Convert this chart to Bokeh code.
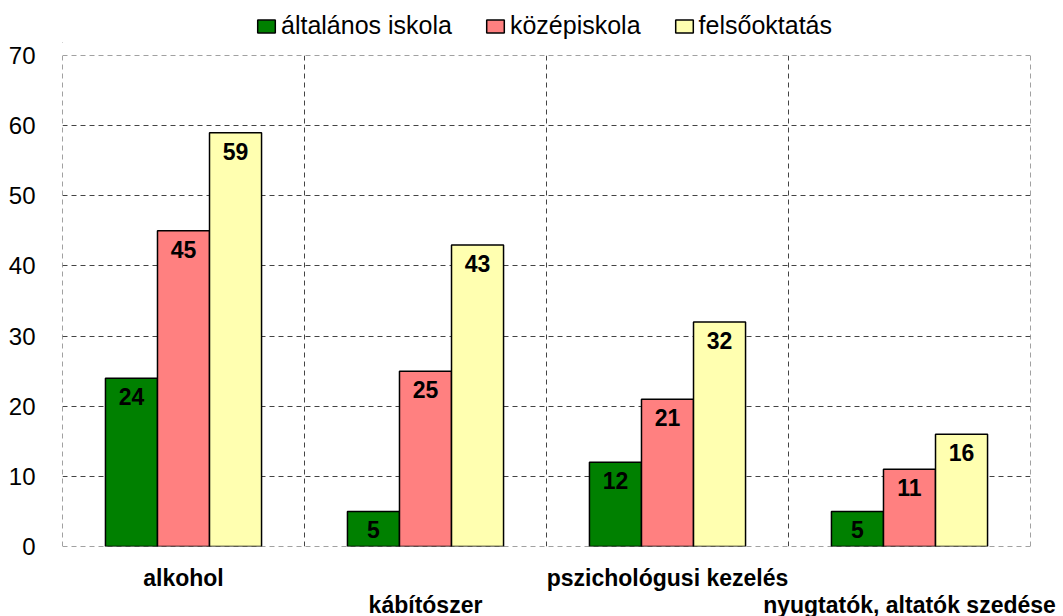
from bokeh.plotting import figure
from bokeh.layouts import column
from bokeh.models import (ColumnDataSource, FixedTicker, SingleIntervalTicker, LinearAxis,
                          Legend, LegendItem, Range1d, Span)
from bokeh.transform import dodge
from bokeh.core.properties import value
from bokeh.embed import file_html
from bokeh.resources import INLINE

categories = ["alkohol", "kábítószer", "pszichológusi kezelés", "nyugtatók, altatók szedése"]
series_names = ["általános iskola", "középiskola", "felsőoktatás"]
altalanos = [24, 5, 12, 5]
kozep = [45, 25, 21, 11]
felso = [59, 43, 32, 16]
colors = ["#008000", "#FF8080", "#FFFFB0"]
y_max = 70

FONT = "Liberation Sans"
GRID = "#444444"
DASH = "5 4"
positions = [i + 0.5 for i in range(len(categories))]

FW, FH = 968, 491
TOTAL_W = 62 + FW + 30

# ---- legend strip (proxy glyphs kept outside the visible range) ----
pl = figure(width=TOTAL_W, height=43, output_backend="svg", toolbar_location=None,
            x_range=Range1d(0, 1), y_range=Range1d(0, 1),
            min_border_left=0, min_border_right=0, min_border_top=0, min_border_bottom=0)
pl.axis.visible = False
pl.grid.visible = False
pl.outline_line_color = None
leg_items = []
for name, col in zip(series_names, colors):
    proxy = ColumnDataSource(dict(x=[-10], top=[0]))
    r = pl.vbar(x="x", top="top", width=0.1, source=proxy,
                fill_color=col, line_color="black", line_width=1.5)
    leg_items.append(LegendItem(label=name, renderers=[r]))
legend = Legend(items=leg_items, orientation="horizontal", location=(193, 3),
                label_text_font=FONT, label_text_font_size="25px", label_text_color="black",
                glyph_width=22, glyph_height=16, label_standoff=4, spacing=32,
                border_line_color=None, background_fill_alpha=0,
                padding=0, margin=0)
pl.add_layout(legend)

# ---- main chart ----
p = figure(frame_width=FW, frame_height=FH, output_backend="svg", toolbar_location=None,
           x_range=Range1d(0, len(categories)), y_range=Range1d(0, y_max),
           min_border_left=62, min_border_right=30, min_border_top=12, min_border_bottom=0,
           x_axis_location=None)
p.outline_line_color = None
p.background_fill_color = "white"
p.border_fill_color = "white"

# grids
p.ygrid.ticker = SingleIntervalTicker(interval=10)
p.ygrid.grid_line_color = GRID
p.ygrid.grid_line_dash = DASH
p.ygrid.grid_line_width = 1
p.xgrid.ticker = FixedTicker(ticks=list(range(len(categories) + 1)))
p.xgrid.grid_line_color = GRID
p.xgrid.grid_line_dash = DASH
p.xgrid.grid_line_width = 1
for loc, dim in [(0, "width"), (y_max, "width"), (0, "height"), (len(categories), "height")]:
    p.add_layout(Span(location=loc, dimension=dim, line_color=GRID, line_dash=DASH,
                      line_width=1, level="underlay"))

bw = 0.215
offsets = [-bw, 0.0, bw]
for vals, name, col, off in zip([altalanos, kozep, felso], series_names, colors, offsets):
    src = ColumnDataSource(dict(x=positions, top=vals, lbl=[str(v) for v in vals]))
    p.vbar(x=dodge("x", off, range=p.x_range), top="top", width=bw, source=src,
           fill_color=col, line_color="black", line_width=1.5)
    p.text(x=dodge("x", off, range=p.x_range), y="top", text="lbl", source=src,
           text_align="center", text_baseline="top", y_offset=10,
           text_font=value(FONT), text_font_style="bold", text_font_size="23px",
           text_color="black")

# y axis
p.yaxis.ticker = SingleIntervalTicker(interval=10)
p.yaxis.axis_line_color = None
p.yaxis.major_tick_line_color = None
p.yaxis.minor_tick_line_color = None
p.yaxis.major_label_text_font = FONT
p.yaxis.major_label_text_font_size = "24px"
p.yaxis.major_label_text_color = "black"
p.yaxis.major_label_standoff = 21

# staggered category axes
for idxs, standoff in [([0, 2], 12), ([1, 3], -8)]:
    ax = LinearAxis(ticker=FixedTicker(ticks=[positions[i] for i in idxs]),
                    major_label_overrides={positions[i]: categories[i] for i in idxs})
    ax.axis_line_color = None
    ax.major_tick_line_color = None
    ax.minor_tick_line_color = None
    ax.major_label_text_font = FONT
    ax.major_label_text_font_style = "bold"
    ax.major_label_text_font_size = "23px"
    ax.major_label_text_color = "black"
    ax.major_label_standoff = standoff
    p.add_layout(ax, "below")

layout = column(pl, p, spacing=0)
open("out.html", "w").write(file_html(layout, INLINE))
